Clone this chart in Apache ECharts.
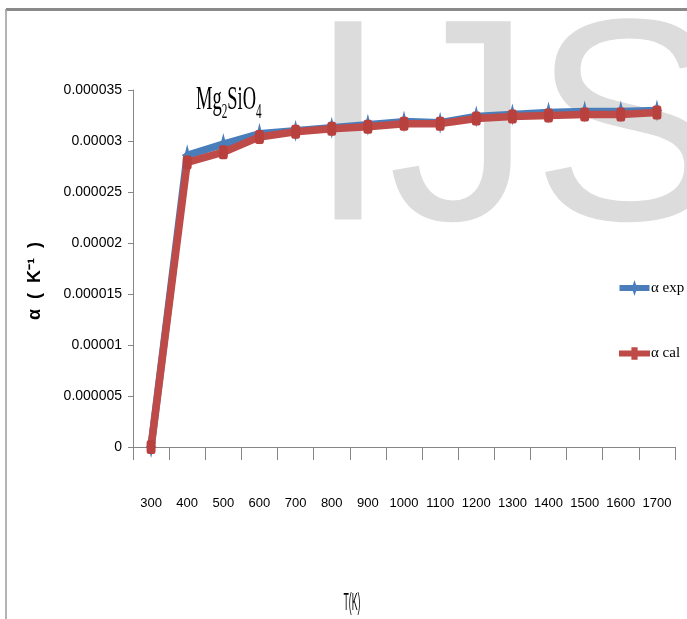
<!DOCTYPE html>
<html>
<head>
<meta charset="utf-8">
<script src="https://cdn.jsdelivr.net/npm/echarts@6/dist/echarts.min.js"></script>
<style>html,body{margin:0;padding:0;background:#fff}#c{width:687px;height:619px}</style>
</head>
<body>
<div id="c"></div>
<script>
var categories = ['300','400','500','600','700','800','900','1000','1100','1200','1300','1400','1500','1600','1700'];
var alphaExp = [0, 0.0000286, 0.0000297, 0.0000307, 0.0000310, 0.0000313, 0.0000316, 0.0000319, 0.0000318, 0.0000324, 0.0000326, 0.0000328, 0.0000329, 0.0000329, 0.0000330];
var alphaCal = [0, 0.0000279, 0.0000289, 0.0000304, 0.0000309, 0.0000312, 0.0000314, 0.0000317, 0.0000317, 0.0000322, 0.0000324, 0.0000325, 0.0000326, 0.0000326, 0.0000328];
var yTicks = { min: 0, max: 0.000035, interval: 0.000005 };

var sans = '"Liberation Sans", Arial, sans-serif';
var serif = '"Liberation Serif", "Times New Roman", serif';
var star = 'path://M0,-10 L2,-2 L5,0 L2,2 L0,10 L-2,2 L-5,0 L-2,-2 Z';
var legendExp = 'path://M0,5 L30,5 L30,11 L0,11 Z M15,0 L17,6 L20,8 L17,10 L15,16 L13,10 L10,8 L13,6 Z';
var legendCal = 'path://M0,5 L30,5 L30,11 L0,11 Z M12,2 L18,2 L18,14 L12,14 Z';

var chart = echarts.init(document.getElementById('c'), null, { renderer: 'canvas' });
chart.setOption({
  animation: false,
  backgroundColor: '#fff',
  graphic: [
    { type: 'text', z: -10, left: 308, top: -4,
      style: { text: 'IJS', font: '288px "Liberation Sans", Arial, sans-serif', fill: '#dcdcdc' } },
    { type: 'line', z: 10, shape: { x1: 6, y1: 9.5, x2: 687, y2: 9.5 }, style: { stroke: '#8a8a8a', lineWidth: 3 } },
    { type: 'line', z: 10, shape: { x1: 6, y1: 9, x2: 6, y2: 619 }, style: { stroke: '#9a9a9a', lineWidth: 1.5 } },
    { type: 'text', z: 10, x: 196, y: 84, scaleX: 0.56, originX: 0,
      style: {
        text: '{a|Mg}{s|2}{a|SiO}{s|4}',
        rich: {
          a: { fontFamily: serif, fontSize: 33, fill: '#000', verticalAlign: 'bottom' },
          s: { fontFamily: serif, fontSize: 20, fill: '#000', padding: [0, 0, -6, 0], verticalAlign: 'bottom' }
        }
      } },
    { type: 'text', z: 10, x: 35, y: 281, rotation: Math.PI / 2,
      style: { text: 'α  (  K⁻¹  )', font: 'bold 18px "Liberation Sans", Arial, sans-serif', fill: '#000', align: 'center', verticalAlign: 'middle' } },
    { type: 'text', z: 10, x: 352, y: 604, scaleX: 0.38, originX: 0,
      style: { text: 'T(K)', font: '23px "Liberation Sans", Arial, sans-serif', fill: '#000', align: 'center', verticalAlign: 'middle' } }
  ],
  legend: {
    orient: 'vertical',
    left: 614, top: 275,
    itemGap: 50,
    itemWidth: 31, itemHeight: 16,
    textStyle: { fontFamily: serif, fontSize: 15, color: '#000', padding: [0, 0, 0, -4] },
    data: [
      { name: 'α exp', icon: legendExp, itemStyle: { color: '#4a7ebb' } },
      { name: 'α cal', icon: legendCal, itemStyle: { color: '#be4b48' } }
    ]
  },
  grid: { left: 133, right: 12, top: 90, bottom: 172, containLabel: false, outerBoundsMode: 'none' },
  xAxis: {
    type: 'category',
    data: categories,
    boundaryGap: true,
    axisLine: { lineStyle: { color: '#868686', width: 1 } },
    axisTick: { show: true, length: 13, alignWithLabel: false, lineStyle: { color: '#868686' } },
    axisLabel: { interval: 0, margin: 50, fontFamily: sans, fontSize: 13, color: '#000' },
    splitLine: { show: false }
  },
  yAxis: {
    type: 'value',
    min: yTicks.min, max: yTicks.max, interval: yTicks.interval,
    axisLine: { show: true, lineStyle: { color: '#868686', width: 1 } },
    axisTick: { show: true, length: 5, lineStyle: { color: '#868686' } },
    axisLabel: {
      margin: 11, fontFamily: sans, fontSize: 14, color: '#000',
      formatter: function (v) { return v === 0 ? '0' : String(parseFloat(v.toFixed(7))); }
    },
    splitLine: { show: false }
  },
  series: [
    {
      name: 'α exp', type: 'line', data: alphaExp,
      color: '#4a7ebb',
      symbol: star, symbolSize: [11, 22], symbolKeepAspect: false,
      lineStyle: { width: 7.5, color: '#4a7ebb' },
      itemStyle: { color: '#4a7ebb' },
      z: 2
    },
    {
      name: 'α cal', type: 'line', data: alphaCal,
      color: '#be4b48',
      symbol: 'roundRect', symbolSize: [9, 14],
      lineStyle: { width: 7.5, color: '#be4b48' },
      itemStyle: { color: '#b8413e' },
      z: 3
    }
  ]
});
</script>
</body>
</html>
